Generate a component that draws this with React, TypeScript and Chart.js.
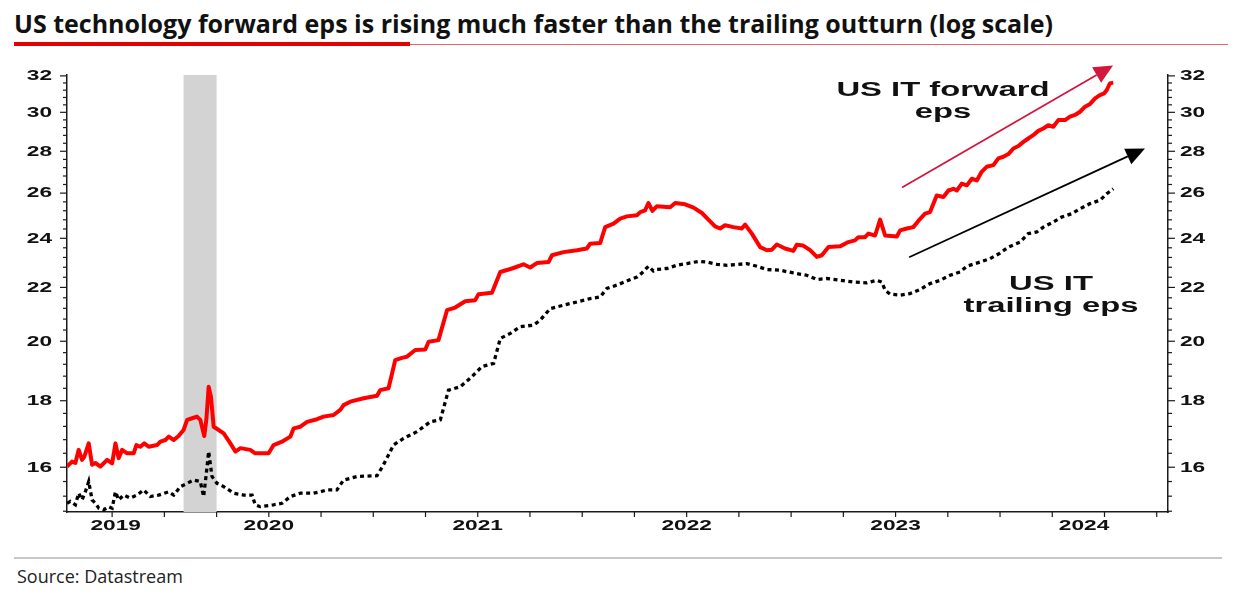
import React, { useEffect, useRef } from 'react';
import { Chart, registerables } from 'chart.js';

Chart.register(...registerables);

// ---------- data (decimal years, eps values) ----------
const fwdDates = [2019.534, 2019.558, 2019.574, 2019.590, 2019.606, 2019.617, 2019.638, 2019.654, 2019.670, 2019.694, 2019.726, 2019.750, 2019.766, 2019.781, 2019.798, 2019.822, 2019.853, 2019.866, 2019.885, 2019.904, 2019.925, 2019.965, 2019.981, 2020.005, 2020.021, 2020.045, 2020.068, 2020.092, 2020.109, 2020.133, 2020.156, 2020.172, 2020.191, 2020.201, 2020.212, 2020.223, 2020.236, 2020.260, 2020.284, 2020.316, 2020.340, 2020.364, 2020.411, 2020.435, 2020.499, 2020.523, 2020.563, 2020.603, 2020.619, 2020.651, 2020.683, 2020.731, 2020.762, 2020.810, 2020.842, 2020.858, 2020.890, 2020.954, 2021.018, 2021.033, 2021.073, 2021.105, 2021.137, 2021.161, 2021.201, 2021.249, 2021.265, 2021.312, 2021.353, 2021.392, 2021.440, 2021.488, 2021.504, 2021.568, 2021.608, 2021.664, 2021.719, 2021.751, 2021.783, 2021.839, 2021.855, 2021.911, 2021.975, 2022.022, 2022.038, 2022.086, 2022.110, 2022.150, 2022.182, 2022.214, 2022.262, 2022.278, 2022.301, 2022.317, 2022.336, 2022.357, 2022.421, 2022.445, 2022.493, 2022.533, 2022.573, 2022.604, 2022.636, 2022.660, 2022.684, 2022.724, 2022.764, 2022.780, 2022.812, 2022.852, 2022.884, 2022.908, 2022.932, 2022.971, 2023.011, 2023.027, 2023.056, 2023.091, 2023.123, 2023.147, 2023.179, 2023.234, 2023.274, 2023.306, 2023.322, 2023.354, 2023.370, 2023.402, 2023.426, 2023.450, 2023.506, 2023.522, 2023.554, 2023.585, 2023.609, 2023.641, 2023.665, 2023.697, 2023.729, 2023.753, 2023.777, 2023.793, 2023.817, 2023.841, 2023.865, 2023.889, 2023.912, 2023.936, 2023.968, 2023.992, 2024.016, 2024.040, 2024.064, 2024.088, 2024.112, 2024.135, 2024.159, 2024.183, 2024.207, 2024.231, 2024.255, 2024.279, 2024.311, 2024.335, 2024.359, 2024.383, 2024.407, 2024.431, 2024.455, 2024.478, 2024.498, 2024.511, 2024.526, 2024.542];
const fwdEps = [16.02, 16.16, 16.12, 16.50, 16.21, 16.30, 16.69, 16.07, 16.12, 16.02, 16.21, 16.11, 16.69, 16.26, 16.50, 16.40, 16.40, 16.64, 16.59, 16.69, 16.59, 16.64, 16.74, 16.79, 16.89, 16.79, 16.91, 17.09, 17.40, 17.45, 17.50, 17.40, 16.91, 17.40, 18.45, 18.13, 17.19, 17.09, 16.99, 16.69, 16.45, 16.55, 16.50, 16.40, 16.40, 16.64, 16.74, 16.89, 17.14, 17.19, 17.34, 17.42, 17.50, 17.55, 17.71, 17.86, 17.97, 18.08, 18.16, 18.34, 18.40, 19.34, 19.42, 19.46, 19.69, 19.71, 19.98, 20.04, 21.13, 21.23, 21.47, 21.51, 21.74, 21.79, 22.61, 22.75, 22.92, 22.79, 22.97, 23.01, 23.29, 23.42, 23.50, 23.57, 23.77, 23.80, 24.48, 24.63, 24.85, 24.95, 25.00, 25.14, 25.22, 25.55, 25.19, 25.40, 25.36, 25.55, 25.49, 25.34, 25.10, 24.81, 24.51, 24.42, 24.56, 24.48, 24.42, 24.59, 24.20, 23.63, 23.50, 23.52, 23.74, 23.57, 23.47, 23.73, 23.70, 23.50, 23.22, 23.29, 23.63, 23.66, 23.84, 23.91, 24.05, 24.05, 24.20, 24.12, 24.81, 24.12, 24.08, 24.34, 24.42, 24.48, 24.75, 25.07, 25.14, 25.89, 25.82, 26.12, 26.20, 26.12, 26.44, 26.36, 26.67, 26.59, 27.00, 27.24, 27.32, 27.65, 27.73, 27.86, 28.14, 28.26, 28.47, 28.64, 28.81, 29.03, 29.15, 29.32, 29.24, 29.59, 29.59, 29.77, 29.86, 30.03, 30.30, 30.45, 30.75, 30.93, 31.02, 31.21, 31.58, 31.62];

const trlDates = [2019.534, 2019.550, 2019.574, 2019.590, 2019.606, 2019.622, 2019.638, 2019.654, 2019.670, 2019.686, 2019.710, 2019.734, 2019.750, 2019.766, 2019.781, 2019.805, 2019.837, 2019.869, 2019.901, 2019.933, 2019.973, 2020.021, 2020.045, 2020.077, 2020.109, 2020.140, 2020.172, 2020.188, 2020.201, 2020.212, 2020.228, 2020.252, 2020.284, 2020.332, 2020.379, 2020.420, 2020.435, 2020.459, 2020.523, 2020.563, 2020.603, 2020.651, 2020.714, 2020.746, 2020.778, 2020.826, 2020.858, 2020.922, 2021.018, 2021.049, 2021.097, 2021.145, 2021.209, 2021.273, 2021.321, 2021.360, 2021.416, 2021.464, 2021.520, 2021.576, 2021.608, 2021.656, 2021.703, 2021.767, 2021.799, 2021.847, 2021.911, 2021.975, 2022.038, 2022.086, 2022.118, 2022.166, 2022.222, 2022.262, 2022.286, 2022.317, 2022.341, 2022.357, 2022.405, 2022.453, 2022.501, 2022.557, 2022.597, 2022.645, 2022.692, 2022.740, 2022.788, 2022.836, 2022.884, 2022.947, 2023.011, 2023.075, 2023.123, 2023.171, 2023.234, 2023.298, 2023.362, 2023.410, 2023.434, 2023.450, 2023.474, 2023.522, 2023.569, 2023.617, 2023.665, 2023.713, 2023.761, 2023.809, 2023.841, 2023.904, 2023.952, 2024.000, 2024.040, 2024.096, 2024.135, 2024.176, 2024.207, 2024.255, 2024.295, 2024.343, 2024.383, 2024.431, 2024.478, 2024.511, 2024.542];
const trlEps = [15.01, 15.06, 14.97, 15.28, 15.10, 15.32, 15.60, 15.10, 15.01, 14.88, 14.84, 14.92, 14.88, 15.32, 15.10, 15.23, 15.15, 15.23, 15.37, 15.19, 15.23, 15.32, 15.23, 15.46, 15.55, 15.64, 15.60, 15.19, 15.83, 16.45, 15.74, 15.55, 15.46, 15.28, 15.23, 15.23, 14.97, 14.92, 14.97, 15.01, 15.19, 15.28, 15.28, 15.32, 15.37, 15.37, 15.64, 15.74, 15.76, 16.07, 16.64, 16.84, 17.04, 17.34, 17.40, 18.34, 18.45, 18.73, 19.12, 19.23, 20.10, 20.28, 20.52, 20.58, 20.76, 21.19, 21.32, 21.44, 21.57, 21.63, 21.96, 22.09, 22.28, 22.41, 22.57, 22.84, 22.65, 22.71, 22.75, 22.88, 22.95, 23.04, 23.01, 22.92, 22.88, 22.91, 22.95, 22.84, 22.71, 22.68, 22.57, 22.48, 22.31, 22.35, 22.28, 22.21, 22.18, 22.28, 22.21, 21.89, 21.74, 21.70, 21.76, 21.92, 22.15, 22.28, 22.48, 22.61, 22.84, 23.01, 23.15, 23.38, 23.63, 23.84, 24.20, 24.27, 24.48, 24.70, 24.92, 25.07, 25.29, 25.52, 25.67, 25.97, 26.20];

// ---------- axes / labels ----------
const yearLabels = ['2019', '2020', '2021', '2022', '2023', '2024'];
const majorTicks = [16, 18, 20, 22, 24, 26, 28, 30, 32];
const minorTickStart = 14.8;
const minorTickStep = 0.4;
const quarterStep = 0.25;
const xMin = 2019.534;
const xMax = 2024.804;
const yMin = 14.78;
const yMax = 32.05;
const recession = [2020.092, 2020.25];

// annotations (data coordinates)
const fwdLabelLines = ['US IT forward', 'eps'];
const fwdLabelAt = { x: 2023.727, y: 30.9 };
const trlLabelLines = ['US IT', 'trailing eps'];
const trlLabelAt = { x: 2024.244, y: 21.89 };
const fwdArrow = { x0: 2023.531, y0: 26.26, x1: 2024.541, y1: 32.59 };
const trlArrow = { x0: 2023.565, y0: 23.21, x1: 2024.694, y1: 28.14 };

const AXIS = '#1a1a1a';
const LABEL_FONT = 'bold 14px "Liberation Sans", Arial, sans-serif';
const ANNOT_FONT = 'bold 20px "Liberation Sans", Arial, sans-serif';
const TICK_STRETCH = 1.62;
const ANNOT_STRETCH = 1.64;

function zip(xs: number[], ys: number[]) {
  const n = Math.min(xs.length, ys.length);
  const out: { x: number; y: number }[] = [];
  for (let i = 0; i < n; i++) out.push({ x: xs[i], y: ys[i] });
  return out;
}

function stretchText(ctx: CanvasRenderingContext2D, text: string, x: number, y: number, align: CanvasTextAlign, sx: number) {
  ctx.save();
  ctx.translate(x, y);
  ctx.scale(sx, 1);
  ctx.textAlign = align;
  ctx.fillText(text, 0, 0);
  ctx.restore();
}

function drawArrow(ctx: CanvasRenderingContext2D, x0: number, y0: number, x1: number, y1: number, color: string, width: number, headLen: number, headHalf: number) {
  const ang = Math.atan2(y1 - y0, x1 - x0);
  const bx = x1 - headLen * Math.cos(ang);
  const by = y1 - headLen * Math.sin(ang);
  ctx.save();
  ctx.strokeStyle = color;
  ctx.lineWidth = width;
  ctx.beginPath();
  ctx.moveTo(x0, y0);
  ctx.lineTo(bx, by);
  ctx.stroke();
  ctx.fillStyle = color;
  ctx.beginPath();
  ctx.moveTo(x1, y1);
  ctx.lineTo(bx + headHalf * Math.sin(ang), by - headHalf * Math.cos(ang));
  ctx.lineTo(bx - headHalf * Math.sin(ang), by + headHalf * Math.cos(ang));
  ctx.closePath();
  ctx.fill();
  ctx.restore();
}

const decorPlugin = {
  id: 'decor',
  beforeDatasetsDraw(chart: any) {
    const { ctx, chartArea: a, scales } = chart;
    const x0 = scales.x.getPixelForValue(recession[0]);
    const x1 = scales.x.getPixelForValue(recession[1]);
    ctx.save();
    ctx.fillStyle = '#d3d3d3';
    ctx.fillRect(x0, a.top, x1 - x0, a.bottom - a.top);
    ctx.restore();
  },
  afterDraw(chart: any) {
    const { ctx, chartArea: a, scales } = chart;
    const xs = scales.x;
    const ys = scales.y;
    ctx.save();
    ctx.strokeStyle = AXIS;
    ctx.lineWidth = 1.2;
    const seg = (x0: number, y0: number, x1: number, y1: number) => {
      ctx.beginPath();
      ctx.moveTo(x0, y0);
      ctx.lineTo(x1, y1);
      ctx.stroke();
    };
    // y ticks (both sides)
    const n = Math.round((yMax - minorTickStart) / minorTickStep) + 1;
    for (let i = 0; i <= n; i++) {
      const v = Math.round((minorTickStart + i * minorTickStep) * 10) / 10;
      if (v > yMax) break;
      const py = ys.getPixelForValue(v);
      const len = majorTicks.includes(v) ? 7 : 4;
      seg(a.left - len, py, a.left, py);
      seg(a.right, py, a.right + len, py);
    }
    // x quarter ticks
    for (let q = Math.ceil(xMin / quarterStep) * quarterStep; q <= xMax; q += quarterStep) {
      const px = xs.getPixelForValue(q);
      seg(px, a.bottom, px, a.bottom + 5);
    }
    // labels
    ctx.fillStyle = '#111';
    ctx.font = LABEL_FONT;
    ctx.textBaseline = 'middle';
    majorTicks.forEach((v) => {
      const py = ys.getPixelForValue(v);
      stretchText(ctx, String(v), a.left - 15, py + 0.5, 'right', TICK_STRETCH);
      stretchText(ctx, String(v), a.right + 12, py + 0.5, 'left', TICK_STRETCH);
    });
    yearLabels.forEach((lab) => {
      const yr = Number(lab);
      const s = Math.max(yr, xMin);
      const e = Math.min(yr + 1, xMax);
      const px = (xs.getPixelForValue(s) + xs.getPixelForValue(e)) / 2;
      stretchText(ctx, lab, px, a.bottom + 14, 'center', TICK_STRETCH);
    });
    // annotations
    ctx.font = ANNOT_FONT;
    ctx.textBaseline = 'alphabetic';
    const fx = xs.getPixelForValue(fwdLabelAt.x);
    const fy = ys.getPixelForValue(fwdLabelAt.y);
    fwdLabelLines.forEach((t, i) => stretchText(ctx, t, fx, fy + i * 22, 'center', ANNOT_STRETCH));
    const tx = xs.getPixelForValue(trlLabelAt.x);
    const ty = ys.getPixelForValue(trlLabelAt.y);
    trlLabelLines.forEach((t, i) => stretchText(ctx, t, tx, ty + i * 22, 'center', ANNOT_STRETCH));
    drawArrow(ctx, xs.getPixelForValue(fwdArrow.x0), ys.getPixelForValue(fwdArrow.y0), xs.getPixelForValue(fwdArrow.x1), ys.getPixelForValue(fwdArrow.y1), '#d3163e', 1.8, 19, 9);
    drawArrow(ctx, xs.getPixelForValue(trlArrow.x0), ys.getPixelForValue(trlArrow.y0), xs.getPixelForValue(trlArrow.x1), ys.getPixelForValue(trlArrow.y1), '#000', 1.8, 19, 8.5);
    ctx.restore();
  },
};

export default function App() {
  const ref = useRef<HTMLCanvasElement>(null);
  useEffect(() => {
    if (!ref.current) return;
    const hiddenTicks = { display: false };
    const noGrid = { display: false, drawTicks: false };
    const border = { display: true, color: AXIS, width: 1.5 };
    const chart = new Chart(ref.current, {
      type: 'line',
      data: {
        datasets: [
          {
            label: 'US IT trailing eps',
            data: zip(trlDates, trlEps),
            borderColor: '#000',
            borderWidth: 3.3,
            borderDash: [4, 3.5],
            borderCapStyle: 'butt',
            pointRadius: 0,
            tension: 0,
            fill: false,
            yAxisID: 'y',
          },
          {
            label: 'US IT forward eps',
            data: zip(fwdDates, fwdEps),
            borderColor: '#ff0000',
            borderWidth: 4,
            borderJoinStyle: 'round',
            pointRadius: 0,
            tension: 0,
            fill: false,
            yAxisID: 'y',
          },
        ],
      },
      options: {
        responsive: false,
        animation: false,
        events: [],
        devicePixelRatio: 1,
        layout: { padding: { top: 20, left: 0, right: 0, bottom: 0 } },
        plugins: { legend: { display: false }, tooltip: { enabled: false }, title: { display: false } },
        scales: {
          x: {
            type: 'linear',
            position: 'bottom',
            min: xMin,
            max: xMax,
            grid: noGrid,
            border,
            ticks: hiddenTicks,
            afterFit: (s: any) => { s.height = 33; },
          },
          y: {
            type: 'logarithmic',
            position: 'left',
            min: yMin,
            max: yMax,
            grid: noGrid,
            border,
            ticks: hiddenTicks,
            afterFit: (s: any) => { s.width = 67; },
          },
          y2: {
            type: 'logarithmic',
            position: 'right',
            min: yMin,
            max: yMax,
            grid: noGrid,
            border,
            ticks: hiddenTicks,
            afterFit: (s: any) => { s.width = 74; },
          },
        },
      } as any,
      plugins: [decorPlugin],
    });
    return () => chart.destroy();
  }, []);

  return (
    <div style={{ position: 'absolute', left: 0, top: 0, width: 1242, height: 598, background: '#fff', overflow: 'hidden' }}>
      <div style={{ position: 'absolute', left: 14, top: 8, font: '700 25px "Open Sans", "Noto Sans", sans-serif', lineHeight: '30px', color: '#111', whiteSpace: 'nowrap' }}>
        US technology forward eps is rising much faster than the trailing outturn (log scale)
      </div>
      <div style={{ position: 'absolute', left: 14, top: 44, width: 1214, height: 1, background: '#e06a6a' }} />
      <div style={{ position: 'absolute', left: 14, top: 42, width: 396, height: 4, background: '#e30000' }} />
      <canvas ref={ref} width={1242} height={490} style={{ position: 'absolute', left: 0, top: 55, width: 1242, height: 490 }} />
      <div style={{ position: 'absolute', left: 14, top: 557, width: 1208, height: 2, background: '#c8c8c8' }} />
      <div style={{ position: 'absolute', left: 17, top: 565, font: '400 18px "Open Sans", "Noto Sans", sans-serif', lineHeight: '22px', color: '#222', whiteSpace: 'nowrap' }}>
        Source: Datastream
      </div>
    </div>
  );
}
